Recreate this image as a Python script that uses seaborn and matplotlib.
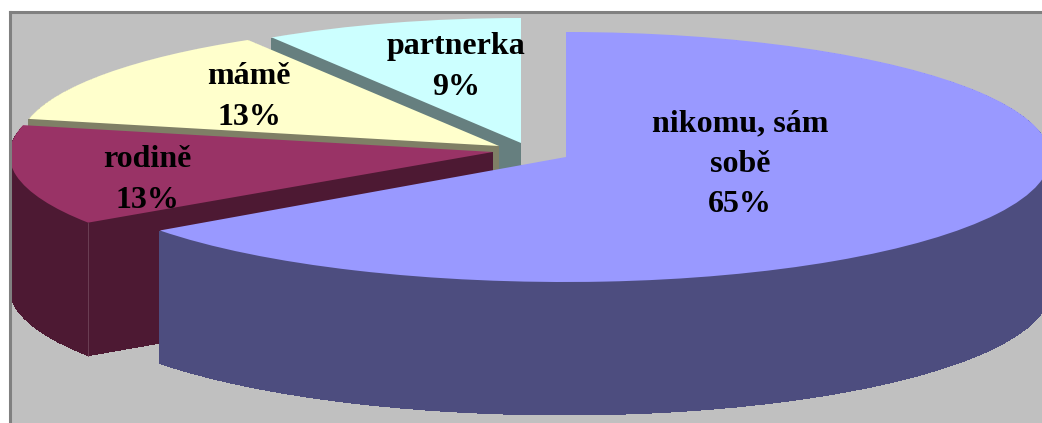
import matplotlib
matplotlib.use('Agg')
import matplotlib.pyplot as plt
import numpy as np
import seaborn as sns
from matplotlib.patches import PathPatch
from matplotlib.path import Path
from matplotlib.transforms import Affine2D

W, H = 1042, 423

labels = ['nikomu, sám\nsobě', 'rodině', 'mámě', 'partnerka']
values = [65, 13, 13, 9]

top_colors = ['#9999FF', '#993366', '#FFFFCC', '#CCFFFF']
wall_colors = ['#4D4D7F', '#4D1933', '#7F7F66', '#667F7F']

# slice geometry in pixels: apex x, apex y, radius left, radius right, radius y, skew x, skew y
slice_geom = [(566, 157, 502, 484, 125, 0, 0),
              (493, 152, 483, 483, 125, 24, 3.5),
              (499, 146, 480, 480, 123, 7.4, 4.1),
              (521, 143, 465, 465, 125, 0, 0)]
label_pos = [(740, 164), (147, 180), (249, 97), (456, 67)]
DEPTH = 133

sns.set_theme(style='white')
plt.rcParams['font.family'] = ['Liberation Serif', 'DejaVu Serif']

fig = plt.figure(figsize=(W / 100, H / 100), dpi=100, facecolor='white')
ax = fig.add_axes([9.5 / W, 0, 1 - 9.5 / W, 1 - 12 / H])

wedges, _ = ax.pie(values, startangle=90, counterclock=False, normalize=True,
                   colors=sns.color_palette(top_colors), wedgeprops={'linewidth': 0})
paths = [w.get_path() for w in wedges]
corner = np.deg2rad(wedges[1].theta2)
for w in wedges:
    w.remove()

ax.set_aspect('auto')
ax.set_frame_on(True)
ax.set_xlim(9.5, W)
ax.set_ylim(H, 12)
ax.set_facecolor('#C0C0C0')
for side in ['right', 'bottom']:
    ax.spines[side].set_visible(False)
for side in ['top', 'left']:
    ax.spines[side].set_visible(True)
    ax.spines[side].set_color('#808080')
    ax.spines[side].set_linewidth(2.2)


def slice_path(path, geom):
    """the pie wedge in pixels, wider on one side and skewed like the perspective of the original"""
    cx, cy, rx_left, rx_right, ry, kx, ky = geom
    x, y = path.vertices[:, 0], path.vertices[:, 1]
    px = np.where(x < 0, rx_left, rx_right) * x + kx * y
    py = -ry * y + ky * x
    return Path(np.column_stack([px + cx, py + cy]), path.codes)


# back to front, the wall is the same slice stacked downwards
for i in range(len(values) - 1, -1, -1):
    shape = slice_path(paths[i], slice_geom[i])
    for d in range(DEPTH, 0, -1):
        tr = Affine2D().translate(0, d) + ax.transData
        ax.add_patch(PathPatch(shape, transform=tr, facecolor=wall_colors[i], linewidth=0,
                               antialiased=False))
    ax.add_patch(PathPatch(shape, facecolor=top_colors[i], linewidth=0))

# faint corner line on the wall of the second slice
cx, cy, rx, _, ry, kx, ky = slice_geom[1]
corner_x = cx + rx * np.cos(corner) + kx * np.sin(corner)
corner_y = cy - ry * np.sin(corner) + ky * np.cos(corner)
ax.plot([corner_x, corner_x], [corner_y, corner_y + DEPTH], color='#6B3F55', linewidth=0.7)

for label, value, (x, y) in zip(labels, values, label_pos):
    ax.text(x, y, f'{label}\n{value}%', ha='center', va='center', fontsize=23,
            fontweight='bold', color='black', linespacing=1.52)

fig.savefig('out.png', dpi=100, facecolor='white')
